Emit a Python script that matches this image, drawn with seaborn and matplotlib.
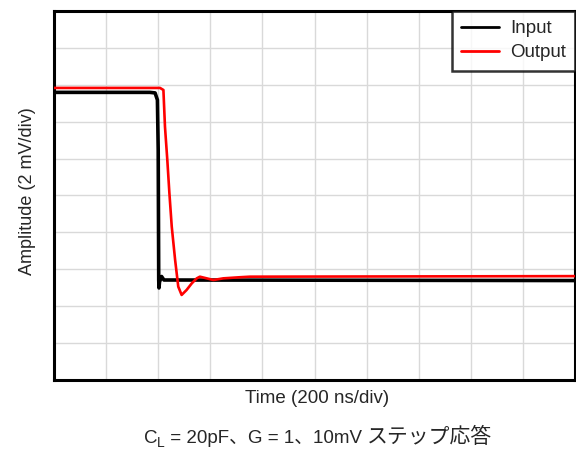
import seaborn as sns
import matplotlib.pyplot as plt
import pandas as pd
import numpy as np

# time in ns (200 ns/div), amplitude in mV (2 mV/div)
input_t = [0, 368, 388, 397, 400, 402, 403, 405, 413, 422, 2000]
input_v = [5.59, 5.59, 5.56, 5.18, 2.47, -4.58, -5.01, -4.69, -4.39, -4.58, -4.61]

output_t = [0, 407, 420, 426, 435, 443, 452, 465, 477, 490, 509, 529, 548, 560,
            586, 612, 650, 714, 752, 2000]
output_v = [5.83, 5.83, 5.72, 3.73, 1.92, 0.12, -1.69, -3.50, -4.94, -5.39, -5.12,
            -4.76, -4.49, -4.40, -4.49, -4.58, -4.49, -4.43, -4.40, -4.37]

series_names = ['Input', 'Output']
xlabel = 'Time (200 ns/div)'
ylabel = 'Amplitude (2 mV/div)'
# caption pieces: text, font size, baseline shift in px (for the subscript)
caption_parts = [('C', 13.5, 0), ('L', 10, -4), (' = 20pF、G = 1、10mV ', 13.5, 0),
                 ('ステップ応答', 15, 0)]

df = pd.concat([
    pd.DataFrame({'t': input_t, 'v': input_v, 'trace': series_names[0]}),
    pd.DataFrame({'t': output_t, 'v': output_v, 'trace': series_names[1]}),
])

sns.set_style('white')
plt.rcParams['font.family'] = ['Liberation Sans', 'Noto Sans CJK JP', 'DejaVu Sans']

W, H = 576, 451
fig = plt.figure(figsize=(W / 100, H / 100), dpi=100)
ax = fig.add_axes([54 / W, 1 - 380 / H, 521 / W, 369 / H])

sns.lineplot(data=df, x='t', y='v', hue='trace', hue_order=series_names,
             palette={'Input': 'black', 'Output': '#ff0000'}, sort=False,
             estimator=None, ax=ax)
ax.lines[0].set_linewidth(2.6)
ax.lines[1].set_linewidth(1.9)
ax.lines[1].set_zorder(3)

ax.set_xlim(0, 2000)
ax.set_ylim(-10, 10)
ax.set_xticks(np.arange(0, 2001, 200))
ax.set_yticks(np.arange(-10, 11, 2))
ax.grid(True, color='#d9d9d9', linewidth=1)
ax.tick_params(length=0, labelbottom=False, labelleft=False)
for s in ax.spines.values():
    s.set_color('black')
    s.set_linewidth(2.2)

ax.set_xlabel(xlabel, fontsize=13.5)
ax.set_ylabel(ylabel, fontsize=13)
ax.xaxis.set_label_coords((317.5 - 54) / 521, -0.026)
ax.yaxis.set_label_coords((36 - 54) / 521, (380 - 191) / 369)

leg = ax.legend(loc='upper right', fontsize=13.5, frameon=True, fancybox=False,
                borderaxespad=0, handlelength=2.0, handletextpad=0.6,
                labelspacing=0.35, borderpad=0.5)
leg.get_frame().set_edgecolor('black')
leg.get_frame().set_linewidth(1.8)
for line in leg.get_lines():
    line.set_linewidth(2)

# caption: place pieces side by side, centred at x=318 px, baseline 443 px
base_y = 1 - 443 / H
texts = [fig.text(0, base_y + dy / H, s, fontsize=fs, va='baseline', ha='left')
         for s, fs, dy in caption_parts]
fig.canvas.draw()
r = fig.canvas.get_renderer()
widths = [t.get_window_extent(r).width for t in texts]
x = 318 - sum(widths) / 2
for t, w in zip(texts, widths):
    t.set_x(x / W)
    x += w

fig.savefig('out.png', dpi=100)
